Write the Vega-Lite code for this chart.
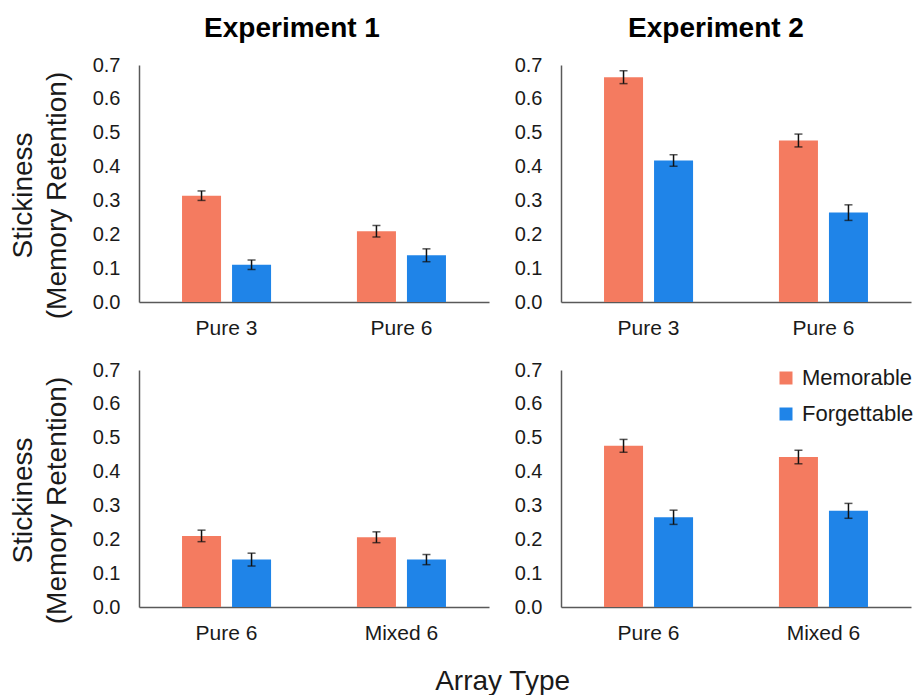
{
  "$schema": "https://vega.github.io/schema/vega-lite/v6.json",
  "padding": {"left": 9, "top": 15, "right": 0, "bottom": 0},
  "datasets": {
    "tl": [
      {"array": "Pure 3", "type": "Memorable", "value": 0.314, "lo": 0.300, "hi": 0.328},
      {"array": "Pure 3", "type": "Forgettable", "value": 0.110, "lo": 0.096, "hi": 0.124},
      {"array": "Pure 6", "type": "Memorable", "value": 0.209, "lo": 0.192, "hi": 0.226},
      {"array": "Pure 6", "type": "Forgettable", "value": 0.138, "lo": 0.119, "hi": 0.157}
    ],
    "tr": [
      {"array": "Pure 3", "type": "Memorable", "value": 0.664, "lo": 0.645, "hi": 0.683},
      {"array": "Pure 3", "type": "Forgettable", "value": 0.418, "lo": 0.401, "hi": 0.435},
      {"array": "Pure 6", "type": "Memorable", "value": 0.477, "lo": 0.458, "hi": 0.496},
      {"array": "Pure 6", "type": "Forgettable", "value": 0.264, "lo": 0.241, "hi": 0.287}
    ],
    "bl": [
      {"array": "Pure 6", "type": "Memorable", "value": 0.210, "lo": 0.193, "hi": 0.227},
      {"array": "Pure 6", "type": "Forgettable", "value": 0.140, "lo": 0.121, "hi": 0.159},
      {"array": "Mixed 6", "type": "Memorable", "value": 0.206, "lo": 0.190, "hi": 0.222},
      {"array": "Mixed 6", "type": "Forgettable", "value": 0.140, "lo": 0.125, "hi": 0.155}
    ],
    "br": [
      {"array": "Pure 6", "type": "Memorable", "value": 0.476, "lo": 0.457, "hi": 0.495},
      {"array": "Pure 6", "type": "Forgettable", "value": 0.265, "lo": 0.244, "hi": 0.286},
      {"array": "Mixed 6", "type": "Memorable", "value": 0.443, "lo": 0.423, "hi": 0.463},
      {"array": "Mixed 6", "type": "Forgettable", "value": 0.284, "lo": 0.262, "hi": 0.306}
    ]
  },
  "title": {"text": "Array Type", "orient": "bottom", "anchor": "middle", "fontSize": 28, "fontWeight": "normal", "color": "#1a1a1a", "dx": 41, "offset": 25},
  "columns": 2,
  "spacing": {"row": 22, "column": 25},
  "resolve": {"scale": {"color": "independent"}, "legend": {"color": "independent"}},
  "concat": [
    {
      "width": 350, "height": 237,
      "data": {"name": "tl"},
      "title": {"text": "Experiment 1", "dx": -22},
      "encoding": {
        "x": {"field": "array", "type": "nominal", "sort": null, "title": null, "scale": {"paddingInner": 0.491, "paddingOuter": 0.246}},
        "xOffset": {"field": "type", "type": "nominal", "sort": ["Memorable", "Forgettable"], "scale": {"paddingInner": 0.22, "paddingOuter": 0}}
      },
      "layer": [
        {"mark": {"type": "bar"}, "encoding": {
          "y": {"field": "value", "type": "quantitative", "scale": {"domain": [0, 0.7]}, "axis": {"title": ["Stickiness", "(Memory Retention)"]}},
          "color": {"field": "type", "type": "nominal", "scale": {"domain": ["Memorable", "Forgettable"], "range": ["#F47B60", "#1F84E8"]}, "legend": null}}},
        {"mark": {"type": "rule", "color": "#111111", "strokeWidth": 1.5}, "encoding": {"y": {"field": "lo", "type": "quantitative"}, "y2": {"field": "hi"}}},
        {"mark": {"type": "tick", "color": "#111111", "size": 8, "thickness": 1.5}, "encoding": {"y": {"field": "lo", "type": "quantitative"}}},
        {"mark": {"type": "tick", "color": "#111111", "size": 8, "thickness": 1.5}, "encoding": {"y": {"field": "hi", "type": "quantitative"}}}
      ]
    },
    {
      "width": 350, "height": 237,
      "data": {"name": "tr"},
      "title": {"text": "Experiment 2", "dx": -20},
      "encoding": {
        "x": {"field": "array", "type": "nominal", "sort": null, "title": null, "scale": {"paddingInner": 0.491, "paddingOuter": 0.246}},
        "xOffset": {"field": "type", "type": "nominal", "sort": ["Memorable", "Forgettable"], "scale": {"paddingInner": 0.22, "paddingOuter": 0}}
      },
      "layer": [
        {"mark": {"type": "bar"}, "encoding": {
          "y": {"field": "value", "type": "quantitative", "scale": {"domain": [0, 0.7]}, "axis": {"title": null}},
          "color": {"field": "type", "type": "nominal", "scale": {"domain": ["Memorable", "Forgettable"], "range": ["#F47B60", "#1F84E8"]}, "legend": null}}},
        {"mark": {"type": "rule", "color": "#111111", "strokeWidth": 1.5}, "encoding": {"y": {"field": "lo", "type": "quantitative"}, "y2": {"field": "hi"}}},
        {"mark": {"type": "tick", "color": "#111111", "size": 8, "thickness": 1.5}, "encoding": {"y": {"field": "lo", "type": "quantitative"}}},
        {"mark": {"type": "tick", "color": "#111111", "size": 8, "thickness": 1.5}, "encoding": {"y": {"field": "hi", "type": "quantitative"}}}
      ]
    },
    {
      "width": 350, "height": 237,
      "data": {"name": "bl"},
      "encoding": {
        "x": {"field": "array", "type": "nominal", "sort": null, "title": null, "scale": {"paddingInner": 0.491, "paddingOuter": 0.246}},
        "xOffset": {"field": "type", "type": "nominal", "sort": ["Memorable", "Forgettable"], "scale": {"paddingInner": 0.22, "paddingOuter": 0}}
      },
      "layer": [
        {"mark": {"type": "bar"}, "encoding": {
          "y": {"field": "value", "type": "quantitative", "scale": {"domain": [0, 0.7]}, "axis": {"title": ["Stickiness", "(Memory Retention)"]}},
          "color": {"field": "type", "type": "nominal", "scale": {"domain": ["Memorable", "Forgettable"], "range": ["#F47B60", "#1F84E8"]}, "legend": null}}},
        {"mark": {"type": "rule", "color": "#111111", "strokeWidth": 1.5}, "encoding": {"y": {"field": "lo", "type": "quantitative"}, "y2": {"field": "hi"}}},
        {"mark": {"type": "tick", "color": "#111111", "size": 8, "thickness": 1.5}, "encoding": {"y": {"field": "lo", "type": "quantitative"}}},
        {"mark": {"type": "tick", "color": "#111111", "size": 8, "thickness": 1.5}, "encoding": {"y": {"field": "hi", "type": "quantitative"}}}
      ]
    },
    {
      "width": 350, "height": 237,
      "data": {"name": "br"},
      "encoding": {
        "x": {"field": "array", "type": "nominal", "sort": null, "title": null, "scale": {"paddingInner": 0.491, "paddingOuter": 0.246}},
        "xOffset": {"field": "type", "type": "nominal", "sort": ["Memorable", "Forgettable"], "scale": {"paddingInner": 0.22, "paddingOuter": 0}}
      },
      "layer": [
        {"mark": {"type": "bar"}, "encoding": {
          "y": {"field": "value", "type": "quantitative", "scale": {"domain": [0, 0.7]}, "axis": {"title": null}},
          "color": {"field": "type", "type": "nominal", "sort": ["Memorable", "Forgettable"], "scale": {"domain": ["Memorable", "Forgettable"], "range": ["#F47B60", "#1F84E8"]},
            "legend": {"title": null, "orient": "top-right", "offset": -3, "padding": 0, "symbolType": "square", "symbolSize": 169, "symbolStrokeWidth": 0, "labelFontSize": 22, "labelColor": "#1a1a1a", "rowPadding": 14, "labelOffset": 5}}}},
        {"mark": {"type": "rule", "color": "#111111", "strokeWidth": 1.5}, "encoding": {"y": {"field": "lo", "type": "quantitative"}, "y2": {"field": "hi"}}},
        {"mark": {"type": "tick", "color": "#111111", "size": 8, "thickness": 1.5}, "encoding": {"y": {"field": "lo", "type": "quantitative"}}},
        {"mark": {"type": "tick", "color": "#111111", "size": 8, "thickness": 1.5}, "encoding": {"y": {"field": "hi", "type": "quantitative"}}}
      ]
    }
  ],
  "config": {
    "font": "Liberation Sans",
    "view": {"stroke": null},
    "title": {"fontSize": 28, "fontWeight": "bold", "color": "#000000", "offset": 12},
    "axis": {"ticks": false, "grid": false, "domainColor": "#595959", "domainWidth": 1.5, "labelColor": "#1a1a1a", "titleColor": "#1a1a1a", "titleFontWeight": "normal"},
    "axisY": {"labelFontSize": 20, "labelPadding": 19, "values": [0, 0.1, 0.2, 0.3, 0.4, 0.5, 0.6, 0.7], "format": ".1f", "titleFontSize": 28, "titleLineHeight": 34, "titlePadding": 21, "titleY": 130},
    "axisX": {"labelFontSize": 21, "labelPadding": 15, "labelAngle": 0}
  }
}
